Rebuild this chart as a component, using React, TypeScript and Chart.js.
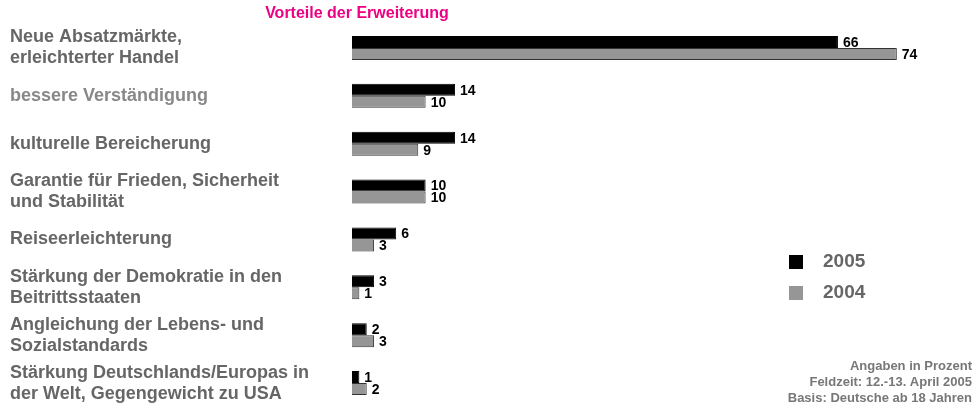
import React, { useEffect, useRef } from "react";
import { Chart, registerables } from "chart.js";

Chart.register(...registerables);

const categories: string[][] = [
  ["Neue Absatzmärkte,", "erleichterter Handel"],
  ["bessere Verständigung"],
  ["kulturelle Bereicherung"],
  ["Garantie für Frieden, Sicherheit", "und Stabilität"],
  ["Reiseerleichterung"],
  ["Stärkung der Demokratie in den", "Beitrittsstaaten"],
  ["Angleichung der Lebens- und", "Sozialstandards"],
  ["Stärkung Deutschlands/Europas in", "der Welt, Gegengewicht zu USA"],
];
const values2005 = [66, 14, 14, 10, 6, 3, 2, 1];
const values2004 = [74, 10, 9, 10, 3, 1, 3, 2];
const seriesNames = ["2005", "2004"];
const titleText = "Vorteile der Erweiterung";
const footnotes = ["Angaben in Prozent", "Feldzeit: 12.-13. April 2005", "Basis: Deutsche ab 18 Jahren"];
const labelColors = ["#666", "#888", "#666", "#666", "#666", "#666", "#666", "#666"];

const FONT = "'Liberation Sans', Arial, sans-serif";

const extrasPlugin = {
  id: "extras",
  afterDatasetsDraw(chart: any) {
    const ctx = chart.ctx;
    ctx.save();
    ctx.font = `bold 14px ${FONT}`;
    ctx.fillStyle = "#000";
    ctx.textBaseline = "middle";
    ctx.textAlign = "left";
    chart.data.datasets.forEach((ds: any, di: number) => {
      const meta = chart.getDatasetMeta(di);
      meta.data.forEach((bar: any, i: number) => {
        ctx.fillText(String(ds.data[i]), bar.x + 5, bar.y + 1);
      });
    });
    ctx.restore();
  },
  afterDraw(chart: any) {
    const ctx = chart.ctx;
    ctx.save();
    // title
    ctx.font = `bold 16px ${FONT}`;
    ctx.fillStyle = "#ee0084";
    ctx.textAlign = "center";
    ctx.textBaseline = "middle";
    ctx.fillText(titleText, 357, 14);
    // legend
    const ds = chart.data.datasets;
    ds.forEach((d: any, i: number) => {
      const y = 262 + i * 31;
      ctx.fillStyle = d.backgroundColor;
      ctx.fillRect(789, y - 7, 14, 14);
      ctx.font = `bold 19px ${FONT}`;
      ctx.fillStyle = "#666";
      ctx.textAlign = "left";
      ctx.fillText(seriesNames[i], 823, y);
    });
    // footnotes
    ctx.font = `bold 13px ${FONT}`;
    ctx.fillStyle = "#777";
    ctx.textAlign = "right";
    footnotes.forEach((t, i) => ctx.fillText(t, 972, 366 + i * 16));
    ctx.restore();
  },
};

export default function App() {
  const ref = useRef<HTMLCanvasElement | null>(null);
  useEffect(() => {
    if (!ref.current) return;
    const chart = new Chart(ref.current, {
      type: "bar",
      data: {
        labels: categories,
        datasets: [
          {
            label: seriesNames[0],
            data: values2005,
            backgroundColor: "#000000",
            borderColor: "#000000",
            borderWidth: 1,
            categoryPercentage: 0.5,
            barPercentage: 1,
          },
          {
            label: seriesNames[1],
            data: values2004,
            backgroundColor: "#969696",
            borderColor: "#333333",
            borderWidth: 1,
            categoryPercentage: 0.5,
            barPercentage: 1,
          },
        ],
      },
      options: {
        indexAxis: "y",
        animation: false,
        responsive: true,
        maintainAspectRatio: false,
        layout: { padding: { top: 24, bottom: 5, left: 10, right: 37 } },
        plugins: {
          legend: { display: false },
          tooltip: { enabled: false },
          title: { display: false },
        },
        scales: {
          x: { display: false, min: 0, max: 80 },
          y: {
            grid: { display: false },
            border: { display: false },
            afterFit: (scale: any) => {
              scale.width = 342;
              scale.paddingTop = 0;
              scale.paddingBottom = 0;
            },
            ticks: {
              crossAlign: "far",
              color: labelColors,
              font: { family: FONT, size: 18, weight: "bold", lineHeight: 1.17 },
              padding: 0,
            },
          },
        },
      },
      plugins: [extrasPlugin],
    });
    return () => chart.destroy();
  }, []);
  return (
    <div style={{ position: "absolute", left: 0, top: 0, width: 978, height: 412 }}>
      <canvas ref={ref} />
    </div>
  );
}
